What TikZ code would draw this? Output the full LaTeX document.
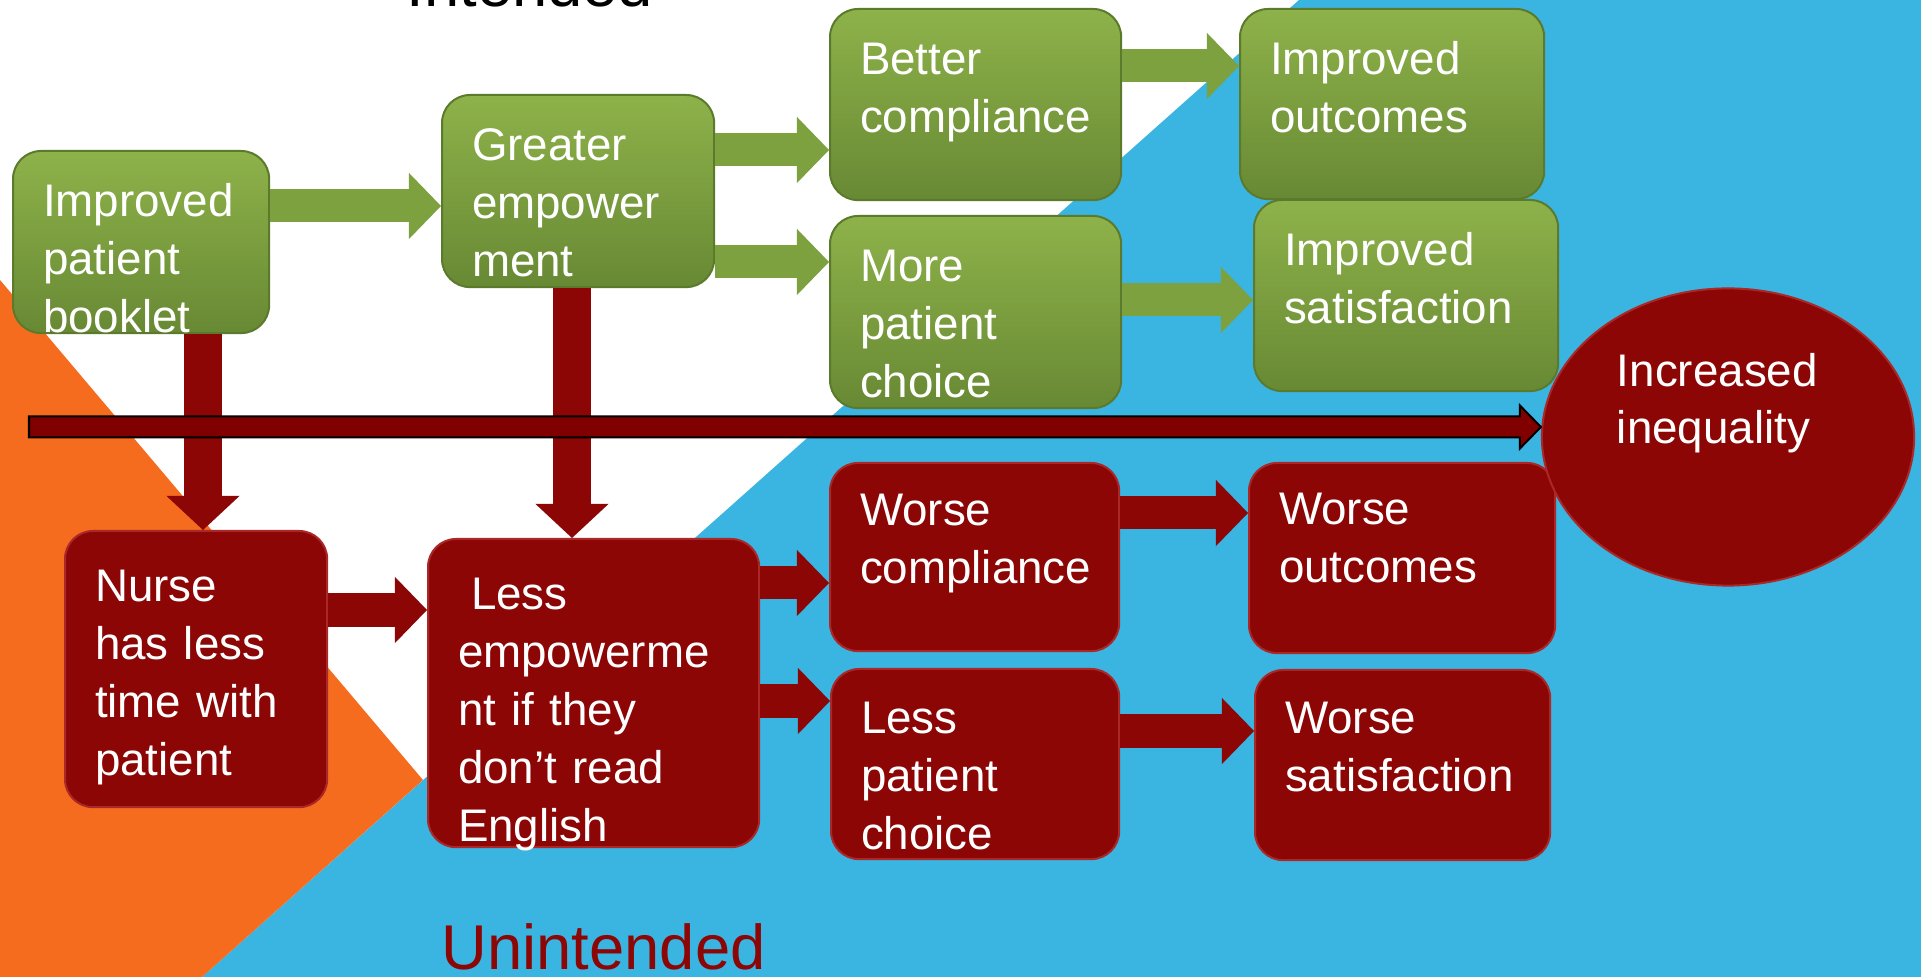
\documentclass[tikz,border=0pt]{standalone}
\usepackage{fontspec}
\setmainfont{Liberation Sans}
\usepackage{tikz}
\usetikzlibrary{shapes.geometric, arrows.meta, calc}

\definecolor{bgorange}{RGB}{246,108,30}
\definecolor{bgblue}{RGB}{58,180,225}
\definecolor{leafgreen}{RGB}{142,178,74}
\definecolor{leafdark}{RGB}{104,137,52}
\definecolor{leafedge}{RGB}{92,122,44}
\definecolor{leafarrow}{RGB}{124,161,62}
\definecolor{bloodred}{RGB}{140,6,6}
\definecolor{bloodedge}{RGB}{170,40,40}
\definecolor{arrowred}{RGB}{128,0,0}

\tikzset{
  box/.style={rounded corners=0.28cm, line width=0.02cm, text=white, align=left, anchor=north west,
    inner sep=0pt, inner xsep=0.3cm, text height=0.65cm, font=\fontsize{13}{16.5}\selectfont},
  gbox/.style={box, draw=leafedge, top color=leafgreen, bottom color=leafdark},
  rbox/.style={box, draw=bloodedge, fill=bloodred},
  garrow/.style={draw=leafarrow, line width=0.33cm, -{Triangle[width=0.66cm, length=0.32cm, line width=0pt]}},
  rarrow/.style={draw=bloodred, line width=0.33cm, -{Triangle[width=0.66cm, length=0.32cm, line width=0pt]}},
  downarrow/.style={draw=bloodred, line width=0.37cm, -{Triangle[width=0.73cm, length=0.34cm, line width=0pt]}},
  bigarrow/.style={fill=arrowred, draw=black, line width=0.02cm},
}

\begin{document}
\begin{tikzpicture}[x=0.01cm, y=-0.01cm]
\useasboundingbox (0,0) rectangle (1921,977);

% background
\fill[white] (0,0) rectangle (1921,977);
\fill[bgblue] (1299,0) -- (1921,0) -- (1921,977) -- (202,977) -- cycle;
\fill[bgorange] (0,280) -- (423,780) -- (202,977) -- (0,977) -- cycle;

% headings
\node[anchor=base, inner sep=0pt, font=\fontsize{18}{21}\selectfont] (intended) at (530,7) {Intended};
\node[anchor=base west, inner sep=0pt, text=bloodred, font=\fontsize{18}{21}\selectfont] (unintended) at (441,970) {Unintended};

% intended chain (green)
\node[gbox, text width=1.96cm, text depth=1.17cm] (booklet) at (12,150) {Improved\\patient\\booklet};
\node[gbox, text width=2.12cm, text depth=1.27cm] (empower) at (441,94) {Greater\\empower\\ment};
\node[gbox, text width=2.31cm, text depth=1.26cm] (complyup) at (829,8) {Better\\compliance};
\node[gbox, text width=2.31cm, text depth=1.27cm] (choiceup) at (829,215) {More\\patient\\choice};
\node[gbox, text width=2.44cm, text depth=1.25cm] (outcomeup) at (1239,8) {Improved\\outcomes};
\node[gbox, text width=2.44cm, text depth=1.26cm] (satisup) at (1253,199) {Improved\\satisfaction};

% unintended chain (red)
\node[rbox, text width=2.02cm, text height=0.70cm, text depth=2.06cm] (nurse) at (64,530) {Nurse\\has less\\time with\\patient};
\node[rbox, text width=2.71cm, text height=0.70cm, text depth=2.38cm] (lessemp) at (427,538) {\hspace*{0.13cm}Less\\empowerme\\nt if they\\don’t read\\English};
\node[rbox, text width=2.29cm, text height=0.62cm, text depth=1.26cm] (complydn) at (829,462) {Worse\\compliance};
\node[rbox, text width=2.28cm, text height=0.64cm, text depth=1.26cm] (choicedn) at (830,668) {Less\\patient\\choice};
\node[rbox, text width=2.46cm, text height=0.61cm, text depth=1.29cm] (outcomedn) at (1248,462) {Worse\\outcomes};
\node[rbox, text width=2.35cm, text height=0.63cm, text depth=1.27cm] (satisdn) at (1254,669) {Worse\\satisfaction};

% end result
\node[ellipse, fill=bloodred, draw=bloodedge, line width=0.02cm, minimum width=3.72cm, minimum height=2.97cm,
  text=white, text width=2.22cm, align=left, inner sep=0pt, text height=0.3cm, text depth=1.3cm,
  font=\fontsize{13}{16}\selectfont] (ineq) at (1728,437) {Increased\\inequality};

% block arrows
\foreach \a/\b/\y in {booklet/empower/206, empower/complyup/150, empower/choiceup/262,
                      complyup/outcomeup/66, choiceup/satisup/300}{
\draw[garrow] (\a.east |- 0,\y) -- (\b.west |- 0,\y);
}
\foreach \a/\b/\y in {nurse/lessemp/610, lessemp/complydn/583, lessemp/choicedn/701,
                      complydn/outcomedn/513, choicedn/satisdn/731}{
\draw[rarrow] (\a.east |- 0,\y) -- (\b.west |- 0,\y);
}
\draw[downarrow] (booklet.south -| 203,0) -- (nurse.north -| 203,0);
\draw[downarrow] (empower.south -| 572,0) -- (lessemp.north -| 572,0);

% long arrow into the ellipse
\coordinate (bigtail) at (29,427);
\coordinate (bigtip) at (ineq.west |- bigtail);
\filldraw[bigarrow] ($(bigtail)+(0,-10.5)$) -- ($(bigtip)+(-21,-10.5)$) -- ($(bigtip)+(-21,-21.5)$) -- (bigtip)
  -- ($(bigtip)+(-21,21.5)$) -- ($(bigtip)+(-21,10.5)$) -- ($(bigtail)+(0,10.5)$) -- cycle;

\end{tikzpicture}
\end{document}
